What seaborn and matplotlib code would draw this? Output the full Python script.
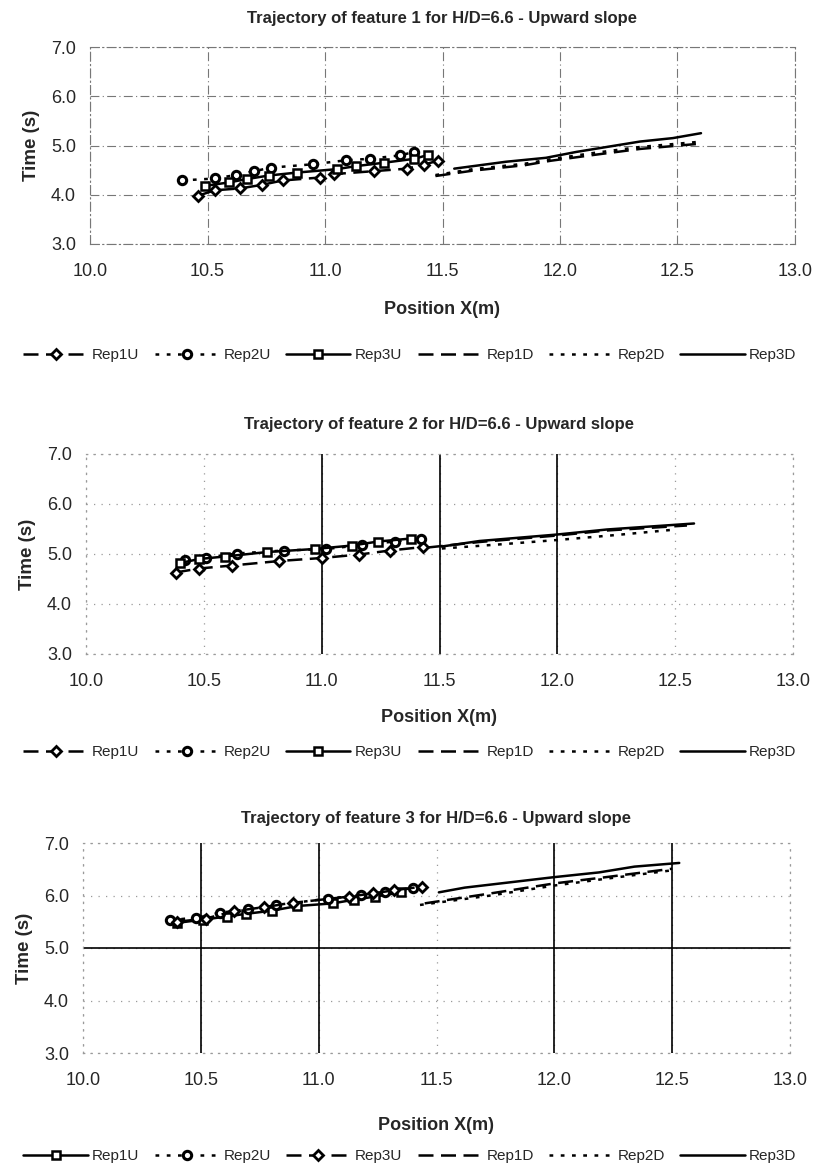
import matplotlib
matplotlib.use("Agg")
import matplotlib.pyplot as plt
import seaborn as sns

# ---- data ----
# Feature 1
f1_rep1u_x = [10.46, 10.53, 10.64, 10.73, 10.82, 10.98, 11.04, 11.21, 11.35, 11.42, 11.48]
f1_rep1u_y = [3.98, 4.09, 4.13, 4.20, 4.29, 4.35, 4.42, 4.48, 4.53, 4.61, 4.69]
f1_rep2u_x = [10.39, 10.53, 10.62, 10.70, 10.77, 10.95, 11.09, 11.19, 11.32, 11.38]
f1_rep2u_y = [4.29, 4.33, 4.40, 4.48, 4.55, 4.62, 4.70, 4.73, 4.80, 4.87]
f1_rep3u_x = [10.49, 10.59, 10.67, 10.76, 10.88, 11.05, 11.13, 11.25, 11.38, 11.44]
f1_rep3u_y = [4.18, 4.25, 4.32, 4.39, 4.45, 4.52, 4.58, 4.65, 4.73, 4.81]
f1_rep1d_x = [11.47, 11.63, 11.85, 11.96, 12.13, 12.34, 12.58]
f1_rep1d_y = [4.38, 4.49, 4.60, 4.69, 4.80, 4.93, 5.03]
f1_rep2d_x = [11.47, 11.63, 11.85, 11.96, 12.13, 12.34, 12.58]
f1_rep2d_y = [4.40, 4.52, 4.63, 4.72, 4.84, 4.97, 5.07]
f1_rep3d_x = [11.55, 11.77, 11.94, 12.07, 12.34, 12.48, 12.60]
f1_rep3d_y = [4.53, 4.67, 4.75, 4.87, 5.08, 5.15, 5.25]

# Feature 2
f2_rep1u_x = [10.38, 10.48, 10.62, 10.82, 11.00, 11.16, 11.29, 11.43]
f2_rep1u_y = [4.63, 4.71, 4.77, 4.86, 4.92, 4.99, 5.07, 5.14]
f2_rep2u_x = [10.42, 10.51, 10.64, 10.84, 11.02, 11.17, 11.31, 11.42]
f2_rep2u_y = [4.89, 4.93, 5.01, 5.07, 5.10, 5.18, 5.25, 5.31]
f2_rep3u_x = [10.40, 10.48, 10.59, 10.77, 10.97, 11.13, 11.24, 11.38]
f2_rep3u_y = [4.82, 4.90, 4.95, 5.04, 5.10, 5.17, 5.25, 5.31]
f2_rep1d_x = [11.45, 11.67, 12.00, 12.21, 12.55]
f2_rep1d_y = [5.13, 5.24, 5.37, 5.47, 5.57]
f2_rep2d_x = [11.51, 11.75, 12.00, 12.25, 12.48]
f2_rep2d_y = [5.11, 5.19, 5.28, 5.38, 5.48]
f2_rep3d_x = [11.51, 11.67, 12.00, 12.21, 12.58]
f2_rep3d_y = [5.15, 5.26, 5.39, 5.49, 5.61]

# Feature 3
f3_rep1u_x = [10.40, 10.51, 10.61, 10.69, 10.80, 10.91, 11.06, 11.15, 11.24, 11.35]
f3_rep1u_y = [5.48, 5.54, 5.60, 5.65, 5.71, 5.80, 5.85, 5.92, 5.98, 6.06]
f3_rep2u_x = [10.37, 10.48, 10.58, 10.70, 10.82, 11.04, 11.18, 11.28, 11.40]
f3_rep2u_y = [5.53, 5.58, 5.67, 5.74, 5.82, 5.94, 6.01, 6.07, 6.14]
f3_rep3u_x = [10.40, 10.52, 10.64, 10.77, 10.89, 11.13, 11.23, 11.32, 11.44]
f3_rep3u_y = [5.50, 5.56, 5.70, 5.78, 5.86, 5.98, 6.04, 6.10, 6.17]
f3_rep1d_x = [11.45, 11.73, 12.00, 12.22, 12.50]
f3_rep1d_y = [5.85, 6.04, 6.23, 6.35, 6.51]
f3_rep2d_x = [11.43, 11.73, 12.00, 12.22, 12.50]
f3_rep2d_y = [5.82, 6.00, 6.19, 6.32, 6.48]
f3_rep3d_x = [11.51, 11.62, 12.00, 12.19, 12.34, 12.53]
f3_rep3d_y = [6.06, 6.15, 6.35, 6.44, 6.55, 6.62]

x_ticks = [10.0, 10.5, 11.0, 11.5, 12.0, 12.5, 13.0]
y_ticks = [3.0, 4.0, 5.0, 6.0, 7.0]
titles = ["Trajectory of feature 1 for H/D=6.6 - Upward slope",
          "Trajectory of feature 2 for H/D=6.6 - Upward slope",
          "Trajectory of feature 3 for H/D=6.6 - Upward slope"]

sns.set_style("white")
plt.rcParams['font.family'] = ['Liberation Sans', 'DejaVu Sans']

fig = plt.figure(figsize=(8.2, 11.67), dpi=100)
H = 1167.0
W = 820.0


def make_ax(left, right, top, bottom):
    return fig.add_axes([left / W, 1 - bottom / H, (right - left) / W, (bottom - top) / H])


# marker / line styles
diamond = dict(marker='D', markersize=5, markerfacecolor='white', markeredgecolor='black', markeredgewidth=2)
circle = dict(marker='o', markersize=6, markerfacecolor='white', markeredgecolor='black', markeredgewidth=2.2)
square = dict(marker='s', markersize=6, markerfacecolor='white', markeredgecolor='black', markeredgewidth=1.8)

dash = (0, (6, 3))
dot = (0, (1.5, 3))

panels = [
    dict(box=(90, 795, 47, 244), title_y=18, xlab_y=310, leg_y=355,
         grid=dict(color='#777777', linestyle=(0, (8, 3, 1, 3)), linewidth=0.8),
         series=[("Rep1U", f1_rep1u_x, f1_rep1u_y, dash, diamond),
                 ("Rep2U", f1_rep2u_x, f1_rep2u_y, dot, circle),
                 ("Rep3U", f1_rep3u_x, f1_rep3u_y, '-', square),
                 ("Rep1D", f1_rep1d_x, f1_rep1d_y, dash, None),
                 ("Rep2D", f1_rep2d_x, f1_rep2d_y, dot, None),
                 ("Rep3D", f1_rep3d_x, f1_rep3d_y, '-', None)]),
    dict(box=(86, 793, 454, 654), title_y=425, xlab_y=718, leg_y=752,
         grid=dict(color='#9a9a9a', linestyle=(0, (1, 5)), linewidth=0.9),
         series=[("Rep1U", f2_rep1u_x, f2_rep1u_y, dash, diamond),
                 ("Rep2U", f2_rep2u_x, f2_rep2u_y, dot, circle),
                 ("Rep3U", f2_rep3u_x, f2_rep3u_y, '-', square),
                 ("Rep1D", f2_rep1d_x, f2_rep1d_y, dash, None),
                 ("Rep2D", f2_rep2d_x, f2_rep2d_y, dot, None),
                 ("Rep3D", f2_rep3d_x, f2_rep3d_y, '-', None)]),
    dict(box=(83, 790, 843, 1053), title_y=818, xlab_y=1125, leg_y=1156,
         grid=dict(color='#9a9a9a', linestyle=(0, (1, 5)), linewidth=0.9),
         series=[("Rep1U", f3_rep1u_x, f3_rep1u_y, '-', square),
                 ("Rep2U", f3_rep2u_x, f3_rep2u_y, dot, circle),
                 ("Rep3U", f3_rep3u_x, f3_rep3u_y, dash, diamond),
                 ("Rep1D", f3_rep1d_x, f3_rep1d_y, dash, None),
                 ("Rep2D", f3_rep2d_x, f3_rep2d_y, dot, None),
                 ("Rep3D", f3_rep3d_x, f3_rep3d_y, '-', None)]),
]

# dark grid lines that show up in the scan
solid_x = [[], [11.0, 11.5, 12.0], [10.5, 11.0, 12.0, 12.5]]
solid_y = [[], [], [5.0]]

for i, p in enumerate(panels):
    left, right, top, bottom = p['box']
    ax = make_ax(left, right, top, bottom)

    for name, xs, ys, ls, mk in p['series']:
        kw = mk if mk is not None else {}
        sns.lineplot(x=xs, y=ys, ax=ax, color='black', linestyle=ls, linewidth=1.8,
                     label=name, estimator=None, sort=False, **kw)

    ax.set_xlim(10.0, 13.0)
    ax.set_ylim(3.0, 7.0)
    ax.set_xticks(x_ticks)
    ax.set_yticks(y_ticks)
    ax.set_xticklabels([f"{v:.1f}" for v in x_ticks], fontsize=13)
    ax.set_yticklabels([f"{v:.1f}" for v in y_ticks], fontsize=13)
    ax.tick_params(axis='x', length=0, pad=14)
    ax.tick_params(axis='y', length=0, pad=10)
    ax.set_xlabel("")
    ax.set_ylabel("Time (s)", fontsize=13.5, fontweight='bold', labelpad=8)

    # grid and frame in the look of the scan
    ax.grid(True, **p['grid'])
    for s in ax.spines.values():
        s.set_visible(True)
        s.set_color(p['grid']['color'])
        s.set_linestyle(p['grid']['linestyle'])
        s.set_linewidth(p['grid']['linewidth'])
    for v in solid_x[i]:
        ax.axvline(v, color='black', linewidth=1.2, zorder=1)
    for v in solid_y[i]:
        ax.axhline(v, color='black', linewidth=1.2, zorder=1)

    cx = (left + right) / 2 / W
    fig.text(cx, 1 - p['title_y'] / H, titles[i], ha='center', va='center',
             fontsize=12, fontweight='bold')
    fig.text(cx, 1 - p['xlab_y'] / H, "Position X(m)", ha='center', va='center',
             fontsize=13, fontweight='bold')

    handles, labels = ax.get_legend_handles_labels()
    ax.legend(handles, labels, ncol=6, frameon=False, fontsize=11,
              loc='center', bbox_to_anchor=(410 / W, 1 - p['leg_y'] / H),
              bbox_transform=fig.transFigure, handlelength=4.2,
              handletextpad=0.3, columnspacing=1.0, numpoints=1)

fig.savefig("out.png", dpi=100)
